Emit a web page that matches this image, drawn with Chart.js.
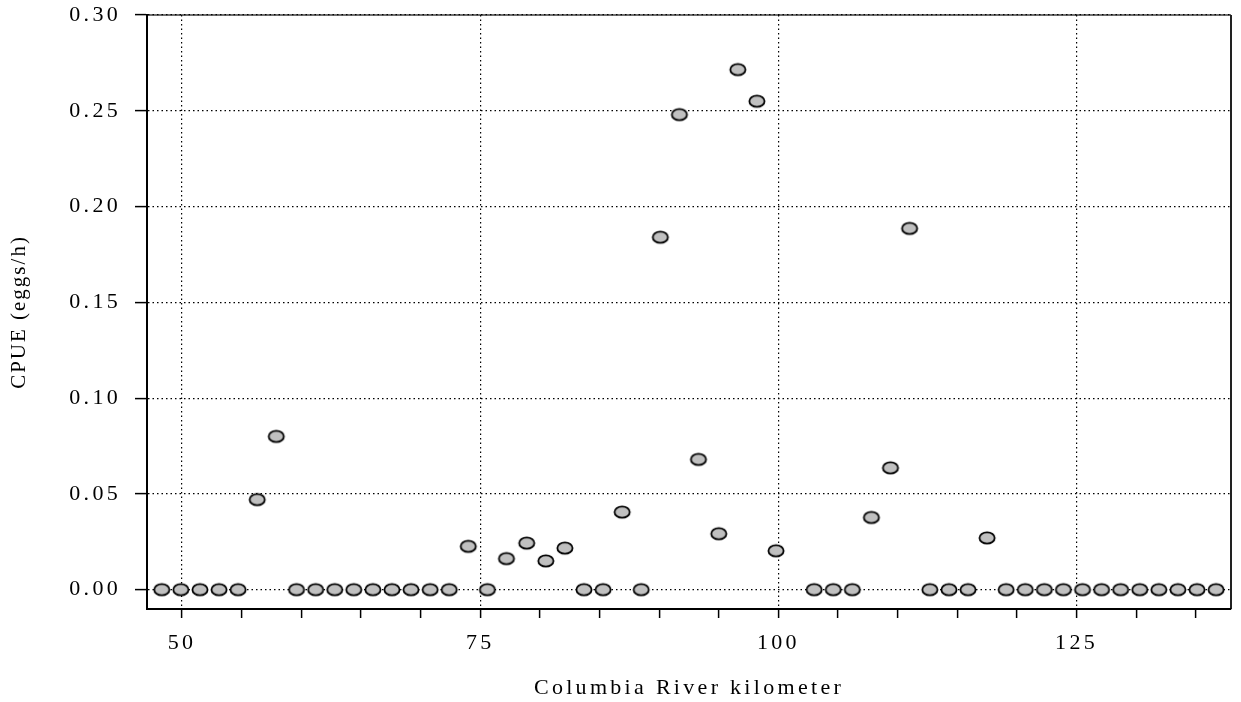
<!DOCTYPE html>
<html>
<head>
<meta charset="utf-8">
<script src="https://cdn.jsdelivr.net/npm/chart.js@4/dist/chart.umd.min.js"></script>
<style>
  html, body { margin: 0; padding: 0; background: #fff; }
  canvas { display: block; }
</style>
</head>
<body>
<canvas id="cpue" width="1241" height="702"></canvas>
<script>
// sampling sites, river km
const riverKm = [
  48.3, 49.9, 51.5, 53.1, 54.7, 56.3, 57.9, 59.6, 61.2, 62.8, 64.4, 66.0,
  67.6, 69.2, 70.8, 72.4, 74.0, 75.6, 77.2, 78.9, 80.5, 82.1, 83.7, 85.3,
  86.9, 88.5, 90.1, 91.7, 93.3, 95.0, 96.6, 98.2, 99.8,
  103.0, 104.6, 106.2, 107.8, 109.4, 111.0, 112.7, 114.3, 115.9, 117.5,
  119.1, 120.7, 122.3, 123.9, 125.5, 127.1, 128.7, 130.3, 131.9, 133.5,
  135.1, 136.7
]

// eggs per hour at each site
const cpue = [
  0, 0, 0, 0, 0, 0.047, 0.080, 0, 0, 0, 0, 0,
  0, 0, 0, 0, 0.0226, 0, 0.0162, 0.0243, 0.0150, 0.0217, 0, 0,
  0.0405, 0, 0.184, 0.248, 0.068, 0.0292, 0.2715, 0.255, 0.0203,
  0, 0, 0, 0.0377, 0.0636, 0.1886, 0, 0, 0, 0.027,
  0, 0, 0, 0, 0, 0, 0, 0, 0, 0,
  0, 0
]

const xLabelled = [50, 75, 100, 125]
const xMinorTicks = [50, 55, 60, 65, 70, 75, 80, 85, 90, 95, 100, 105, 110, 115, 120, 125, 130, 135]
const yTicks = [0, 0.05, 0.10, 0.15, 0.20, 0.25, 0.30]

// grey ellipse marker
const marker = document.createElement("canvas")
marker.width = 20
marker.height = 16
{
  const m = marker.getContext("2d")
  m.beginPath()
  m.ellipse(10, 8, 7.6, 5.7, 0, 0, Math.PI * 2)
  m.fillStyle = "#c0c0c0"
  m.fill()
  m.lineWidth = 1.8
  m.strokeStyle = "#000"
  m.stroke()
}

const serif = "'Liberation Serif', 'Times New Roman', serif"
const wideSpacing = "3.3px"

const framePlugin = {
  id: "frame",
  beforeDraw(chart) {
    const { ctx, chartArea: a } = chart
    ctx.letterSpacing = wideSpacing
    ctx.save()
    ctx.lineWidth = 2
    ctx.strokeStyle = "#6e6e6e"
    ctx.beginPath()
    ctx.moveTo(a.left, a.top)
    ctx.lineTo(a.right, a.top)
    ctx.stroke()
    ctx.strokeStyle = "#222"
    ctx.beginPath()
    ctx.moveTo(a.right, a.top)
    ctx.lineTo(a.right, a.bottom)
    ctx.stroke()
    ctx.restore()
  }
}

// the y title is set tighter than the tick labels
function tightTitle(scale) {
  if (scale._tight) return
  const drawTitle = scale.drawTitle
  scale.drawTitle = function () {
    this.ctx.letterSpacing = "2px"
    drawTitle.call(this)
    this.ctx.letterSpacing = wideSpacing
  }
  scale._tight = true
}

new Chart(document.getElementById("cpue"), {
  type: "scatter",
  data: {
    datasets: [{
      data: riverKm.map((km, i) => ({ x: km, y: cpue[i] })),
      pointStyle: marker,
      pointRadius: 9,
      pointHoverRadius: 9
    }]
  },
  options: {
    responsive: false,
    animation: false,
    devicePixelRatio: 1,
    layout: { padding: { top: 15, right: 4, left: 0, bottom: 0 } },
    plugins: { legend: { display: false }, tooltip: { enabled: false } },
    scales: {
      x: {
        type: "linear",
        min: 47.06,
        max: 137.95,
        afterBuildTicks: s => { s.ticks = xMinorTicks.map(v => ({ value: v })) },
        afterFit: s => {
          s.height = 93
          s.paddingLeft = 0
          s.paddingRight = 0
        },
        ticks: {
          autoSkip: false,
          maxRotation: 0,
          padding: 12,
          color: "#000",
          font: { family: serif, size: 22 },
          callback: v => (xLabelled.includes(v) ? String(v) : "")
        },
        grid: {
          color: c => (c.tick && xLabelled.includes(c.tick.value) ? "#000" : "rgba(0,0,0,0)"),
          lineWidth: 1.2,
          tickColor: "#000",
          tickWidth: 1.5,
          tickLength: 9
        },
        border: { color: "#000", width: 2, dash: [1.5, 3] },
        title: {
          display: true,
          text: "Columbia River kilometer",
          color: "#000",
          font: { family: serif, size: 22 },
          padding: { top: 0, bottom: 1 }
        }
      },
      y: {
        min: -0.0101,
        max: 0.30,
        afterBuildTicks: s => { s.ticks = yTicks.map(v => ({ value: v })) },
        afterFit: s => {
          s.width = 147
          s.paddingTop = 0
          s.paddingBottom = 0
          tightTitle(s)
        },
        ticks: {
          padding: 14,
          color: "#000",
          font: { family: serif, size: 22 },
          callback: v => v.toFixed(2)
        },
        grid: {
          color: "#000",
          lineWidth: 1.2,
          tickColor: "#000",
          tickWidth: 1.5,
          tickLength: 12
        },
        border: { color: "#000", width: 2, dash: [1.5, 3] },
        title: {
          display: true,
          text: "CPUE (eggs/h)",
          color: "#000",
          font: { family: serif, size: 21 },
          padding: { top: 7, bottom: 0 }
        }
      }
    }
  },
  plugins: [framePlugin]
})
</script>
</body>
</html>
